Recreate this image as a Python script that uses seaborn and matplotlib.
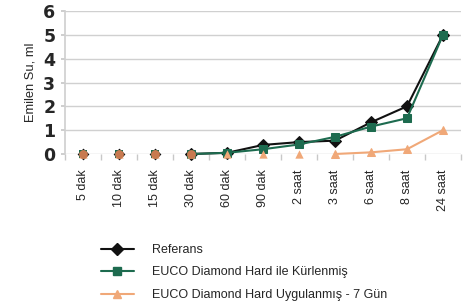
import matplotlib
matplotlib.use("Agg")
import matplotlib.pyplot as plt
import seaborn as sns
import numpy as np
import pandas as pd
from matplotlib.lines import Line2D

categories = ["5 dak", "10 dak", "15 dak", "30 dak", "60 dak", "90 dak",
              "2 saat", "3 saat", "6 saat", "8 saat", "24 saat"]
referans = [0, 0, 0, 0, 0.05, 0.38, 0.5, 0.56, 1.33, 2.0, 5.0]
kurlenmis = [0, 0, 0, 0, 0.05, 0.2, 0.4, 0.72, 1.15, 1.5, 5.0]
uygulanmis = [0, 0, 0, 0, 0, 0, 0, 0, 0.07, 0.2, 1.0]
y_ticks = [0, 1, 2, 3, 4, 5, 6]

series_names = ["Referans", "EUCO Diamond Hard ile Kürlenmiş",
                "EUCO Diamond Hard Uygulanmış - 7 Gün"]
series_vals = [referans, kurlenmis, uygulanmis]
line_start = [3, 3, 7]          # index where the connecting line begins
colors = ["#111111", "#1d6b4f", "#f0a878"]
markers = ["D", "s", "^"]
msizes = [6, 6, 6]

sns.set_theme(style="white")
plt.rcParams['font.family'] = ['Liberation Sans', 'DejaVu Sans']

fig = plt.figure(figsize=(4.69, 3.07), dpi=100)
ax = fig.add_axes([65/469, 1-154/307, 396/469, 143/307])

x = np.arange(len(categories))
for name, vals, st, c, m, ms in zip(series_names, series_vals, line_start, colors, markers, msizes):
    df = pd.DataFrame({"x": x[st:], "y": vals[st:]})
    sns.lineplot(data=df, x="x", y="y", ax=ax, color=c, marker=m, markersize=ms,
                 markeredgecolor=c, linewidth=1.5, clip_on=False, zorder=3)
    df2 = pd.DataFrame({"x": x[:st], "y": vals[:st]})
    ax.scatter(df2["x"], df2["y"], color=c, marker=m, s=ms**2, clip_on=False,
               zorder=3, linewidths=0)

# early overlapping points shown as brownish-orange dots
ax.scatter(x[:4], [0]*4, color="#c87a50", marker="o", s=40, zorder=4, clip_on=False, linewidths=0)

ax.set_xlim(-0.5, len(categories) - 0.5)
ax.set_ylim(0, 6)
ax.set_yticks(y_ticks)
ax.set_yticklabels([str(t) for t in y_ticks], fontsize=12.5, fontweight="bold",
                   family=["DejaVu Sans"])
ax.set_xticks(x)
ax.set_xticklabels(categories, rotation=90, fontsize=9, va="top")
ax.set_xlabel("")
ax.set_ylabel("Emilen Su, ml", fontsize=9.3, labelpad=5)
ax.grid(axis="y", color="#d0d0d0", linewidth=1.0)
ax.set_axisbelow(True)
for s in ["top", "right", "bottom"]:
    ax.spines[s].set_visible(False)
ax.spines["left"].set_color("#d0d0d0")
ax.tick_params(axis="y", length=3, color="#c8c8c8", pad=4, left=True)
ax.tick_params(axis="x", length=0, pad=11)
ax.set_xticks(np.arange(-0.5, len(categories), 1), minor=True)
ax.tick_params(axis="x", which="minor", length=4, color="#c8c8c8", bottom=True)

handles = [Line2D([0], [0], color=c, marker=m, markersize=6, linewidth=1.5, markeredgecolor=c)
           for c, m in zip(colors, markers)]
fig.legend(handles, series_names, loc="upper left", bbox_to_anchor=(96/469, 1-239/307),
           frameon=False, fontsize=9, handlelength=2.6, handletextpad=1.45, labelspacing=0.84,
           borderaxespad=0)

fig.savefig("out.png", dpi=100)
